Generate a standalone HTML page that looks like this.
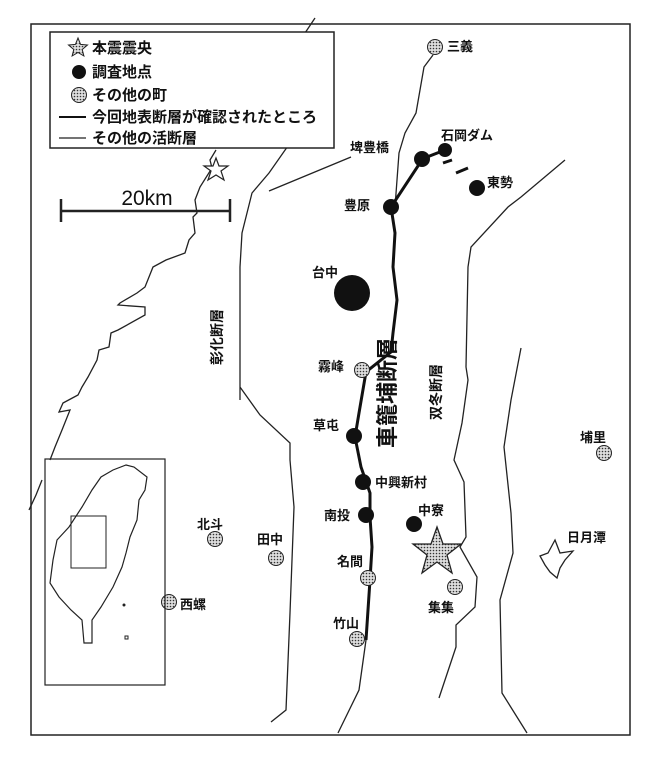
<!DOCTYPE html>
<html><head><meta charset="utf-8"><style>
html,body{margin:0;padding:0;background:#fff;}
svg{display:block;}
text{font-family:"Liberation Sans","Noto Sans CJK JP",sans-serif;font-weight:bold;fill:#111;}
</style></head><body>
<svg width="656" height="766" viewBox="0 0 656 766" xmlns="http://www.w3.org/2000/svg">
<defs>
<pattern id="dots" width="3" height="3" patternUnits="userSpaceOnUse">
<rect width="3" height="3" fill="#ddd"/><circle cx="1.5" cy="1.5" r="0.8" fill="#333"/>
</pattern>
<g id="town"><circle r="7.5" fill="url(#dots)" stroke="#222" stroke-width="1"/></g>
</defs>
<rect x="31" y="24" width="599" height="711" fill="none" stroke="#222" stroke-width="1.5"/>
<g fill="none" stroke="#222" stroke-width="1.3">
<polyline points="315,18 305,33"/>
<polyline points="216,150 210,160 212,168 200,187 195,200 197,213 193,217 195,233 189,240 185,253 166,260 153,267 145,287 137,293 120,303 118,305 145,307 145,315 118,330 111,333 109,347 99,350 97,360 88,377 82,387 78,395 63,403 59,412 70,410 62,430 55,447 50,460"/>
<polyline points="42,480 36,495 29,510"/>
<polyline points="290,143 269,173 252,193 242,233 240,267 240,400 240,387 260,415 290,443 290,460 294,507 290,613 286,710 271,722"/>
<polyline points="269,191 351,157"/>
<polyline points="433,55 424,67 416,113 405,133 399,153 395,207"/>
<polyline points="565,160 521,197 508,207 471,247 468,267 466,367 468,380 462,423 454,460 464,482 466,537 460,547 477,577 475,607 456,625 456,647 439,698"/>
<polyline points="521,348 511,400 504,447 511,513 513,553 500,600 502,693 527,733"/>
<polyline points="366,640 359,690 338,733"/>
</g>
<polyline fill="none" stroke="#111" stroke-width="3" points="445,150 422,159 418,166 391,207 395,233 393,267 397,300 393,333 391,352 366,372 359,413 355,437 361,467 370,493 370,517 372,547 370,580 368,610 366,640"/>
<line x1="443" y1="163" x2="452" y2="160" stroke="#111" stroke-width="3"/>
<line x1="456" y1="173" x2="468" y2="168" stroke="#111" stroke-width="3"/>
<rect x="50" y="32" width="284" height="116" fill="#fff" stroke="#222" stroke-width="1.5"/>
<polygon points="78,38 80.6,44.4 87.5,45 82.2,49.5 83.9,56 78,52.5 72.1,56 73.8,49.5 68.5,45 75.4,44.4" fill="url(#dots)" stroke="#222"/>
<text x="92" y="53" font-size="15">本震震央</text>
<circle cx="79" cy="72" r="7" fill="#111"/>
<text x="92" y="77" font-size="15">調査地点</text>
<use href="#town" x="79" y="95"/>
<text x="92" y="100" font-size="15">その他の町</text>
<line x1="59" y1="117" x2="86" y2="117" stroke="#111" stroke-width="2"/>
<text x="92" y="122" font-size="15">今回地表断層が確認されたところ</text>
<line x1="59" y1="138" x2="86" y2="138" stroke="#222" stroke-width="1.2"/>
<text x="92" y="143" font-size="15">その他の活断層</text>
<polygon points="216,158 219,166 228,166 221,171 224,180 216,175 208,180 211,171 204,166 213,166" fill="#fff" stroke="#222" stroke-width="1.2"/>
<g stroke="#222" stroke-width="2.5"><line x1="61" y1="211" x2="230" y2="211"/><line x1="61" y1="199" x2="61" y2="222"/><line x1="230" y1="199" x2="230" y2="222"/></g>
<text x="147" y="205" font-size="21" text-anchor="middle" style="font-weight:normal">20km</text>
<g fill="#111">
<circle cx="391" cy="207" r="8"/><circle cx="422" cy="159" r="8"/><circle cx="445" cy="150" r="7"/>
<circle cx="477" cy="188" r="8"/><circle cx="352" cy="293" r="18"/>
<circle cx="354" cy="436" r="8"/><circle cx="363" cy="482" r="8"/><circle cx="366" cy="515" r="8"/><circle cx="414" cy="524" r="8"/>
</g>
<polygon points="437,527 443,544 461,544 447,555 452,573 437,562 422,573 427,555 413,544 431,544" fill="url(#dots)" stroke="#222" stroke-width="1.3"/>
<g>
<use href="#town" x="435" y="47"/><use href="#town" x="362" y="370"/><use href="#town" x="455" y="587"/>
<use href="#town" x="604" y="453"/><use href="#town" x="215" y="539"/><use href="#town" x="276" y="558"/>
<use href="#town" x="368" y="578"/><use href="#town" x="357" y="639"/><use href="#town" x="169" y="602"/>
</g>
<polygon points="555,540 560,553 573,551 565,560 560,568 557,578 550,572 545,565 540,556 548,553" fill="#fff" stroke="#222" stroke-width="1.3"/>
<g font-size="13">
<text x="447" y="51">三義</text>
<text x="350" y="152">埤豊橋</text>
<text x="441" y="140">石岡ダム</text>
<text x="487" y="187">東勢</text>
<text x="344" y="210">豊原</text>
<text x="312" y="277">台中</text>
<text x="318" y="371">霧峰</text>
<text x="313" y="430">草屯</text>
<text x="375" y="487">中興新村</text>
<text x="324" y="520">南投</text>
<text x="418" y="515">中寮</text>
<text x="428" y="612">集集</text>
<text x="580" y="442">埔里</text>
<text x="567" y="542">日月潭</text>
<text x="197" y="529">北斗</text>
<text x="257" y="544">田中</text>
<text x="337" y="566">名間</text>
<text x="333" y="628">竹山</text>
<text x="180" y="609">西螺</text>
</g>
<text transform="translate(222,365) rotate(-90)" font-size="14">彰化断層</text>
<text transform="translate(441,420) rotate(-90)" font-size="14">双冬断層</text>
<text transform="translate(395,448) rotate(-90)" font-size="22">車籠埔断層</text>
<rect x="45" y="459" width="120" height="226" fill="none" stroke="#222" stroke-width="1.2"/>
<polygon fill="none" stroke="#222" stroke-width="1.2" points="126,465 134,467 147,477 145,490 139,500 137,520 130,537 126,553 122,567 113,587 101,607 92,620 92,643 84,643 82,620 71,610 59,597 50,583 53,560 57,540 69,527 82,507 92,490 101,477 113,470"/>
<rect x="71" y="516" width="35" height="52" fill="none" stroke="#222" stroke-width="1"/>
<circle cx="124" cy="605" r="1.5" fill="#222"/><rect x="125" y="636" width="3" height="3" fill="none" stroke="#222"/>
</svg>
</body></html>
